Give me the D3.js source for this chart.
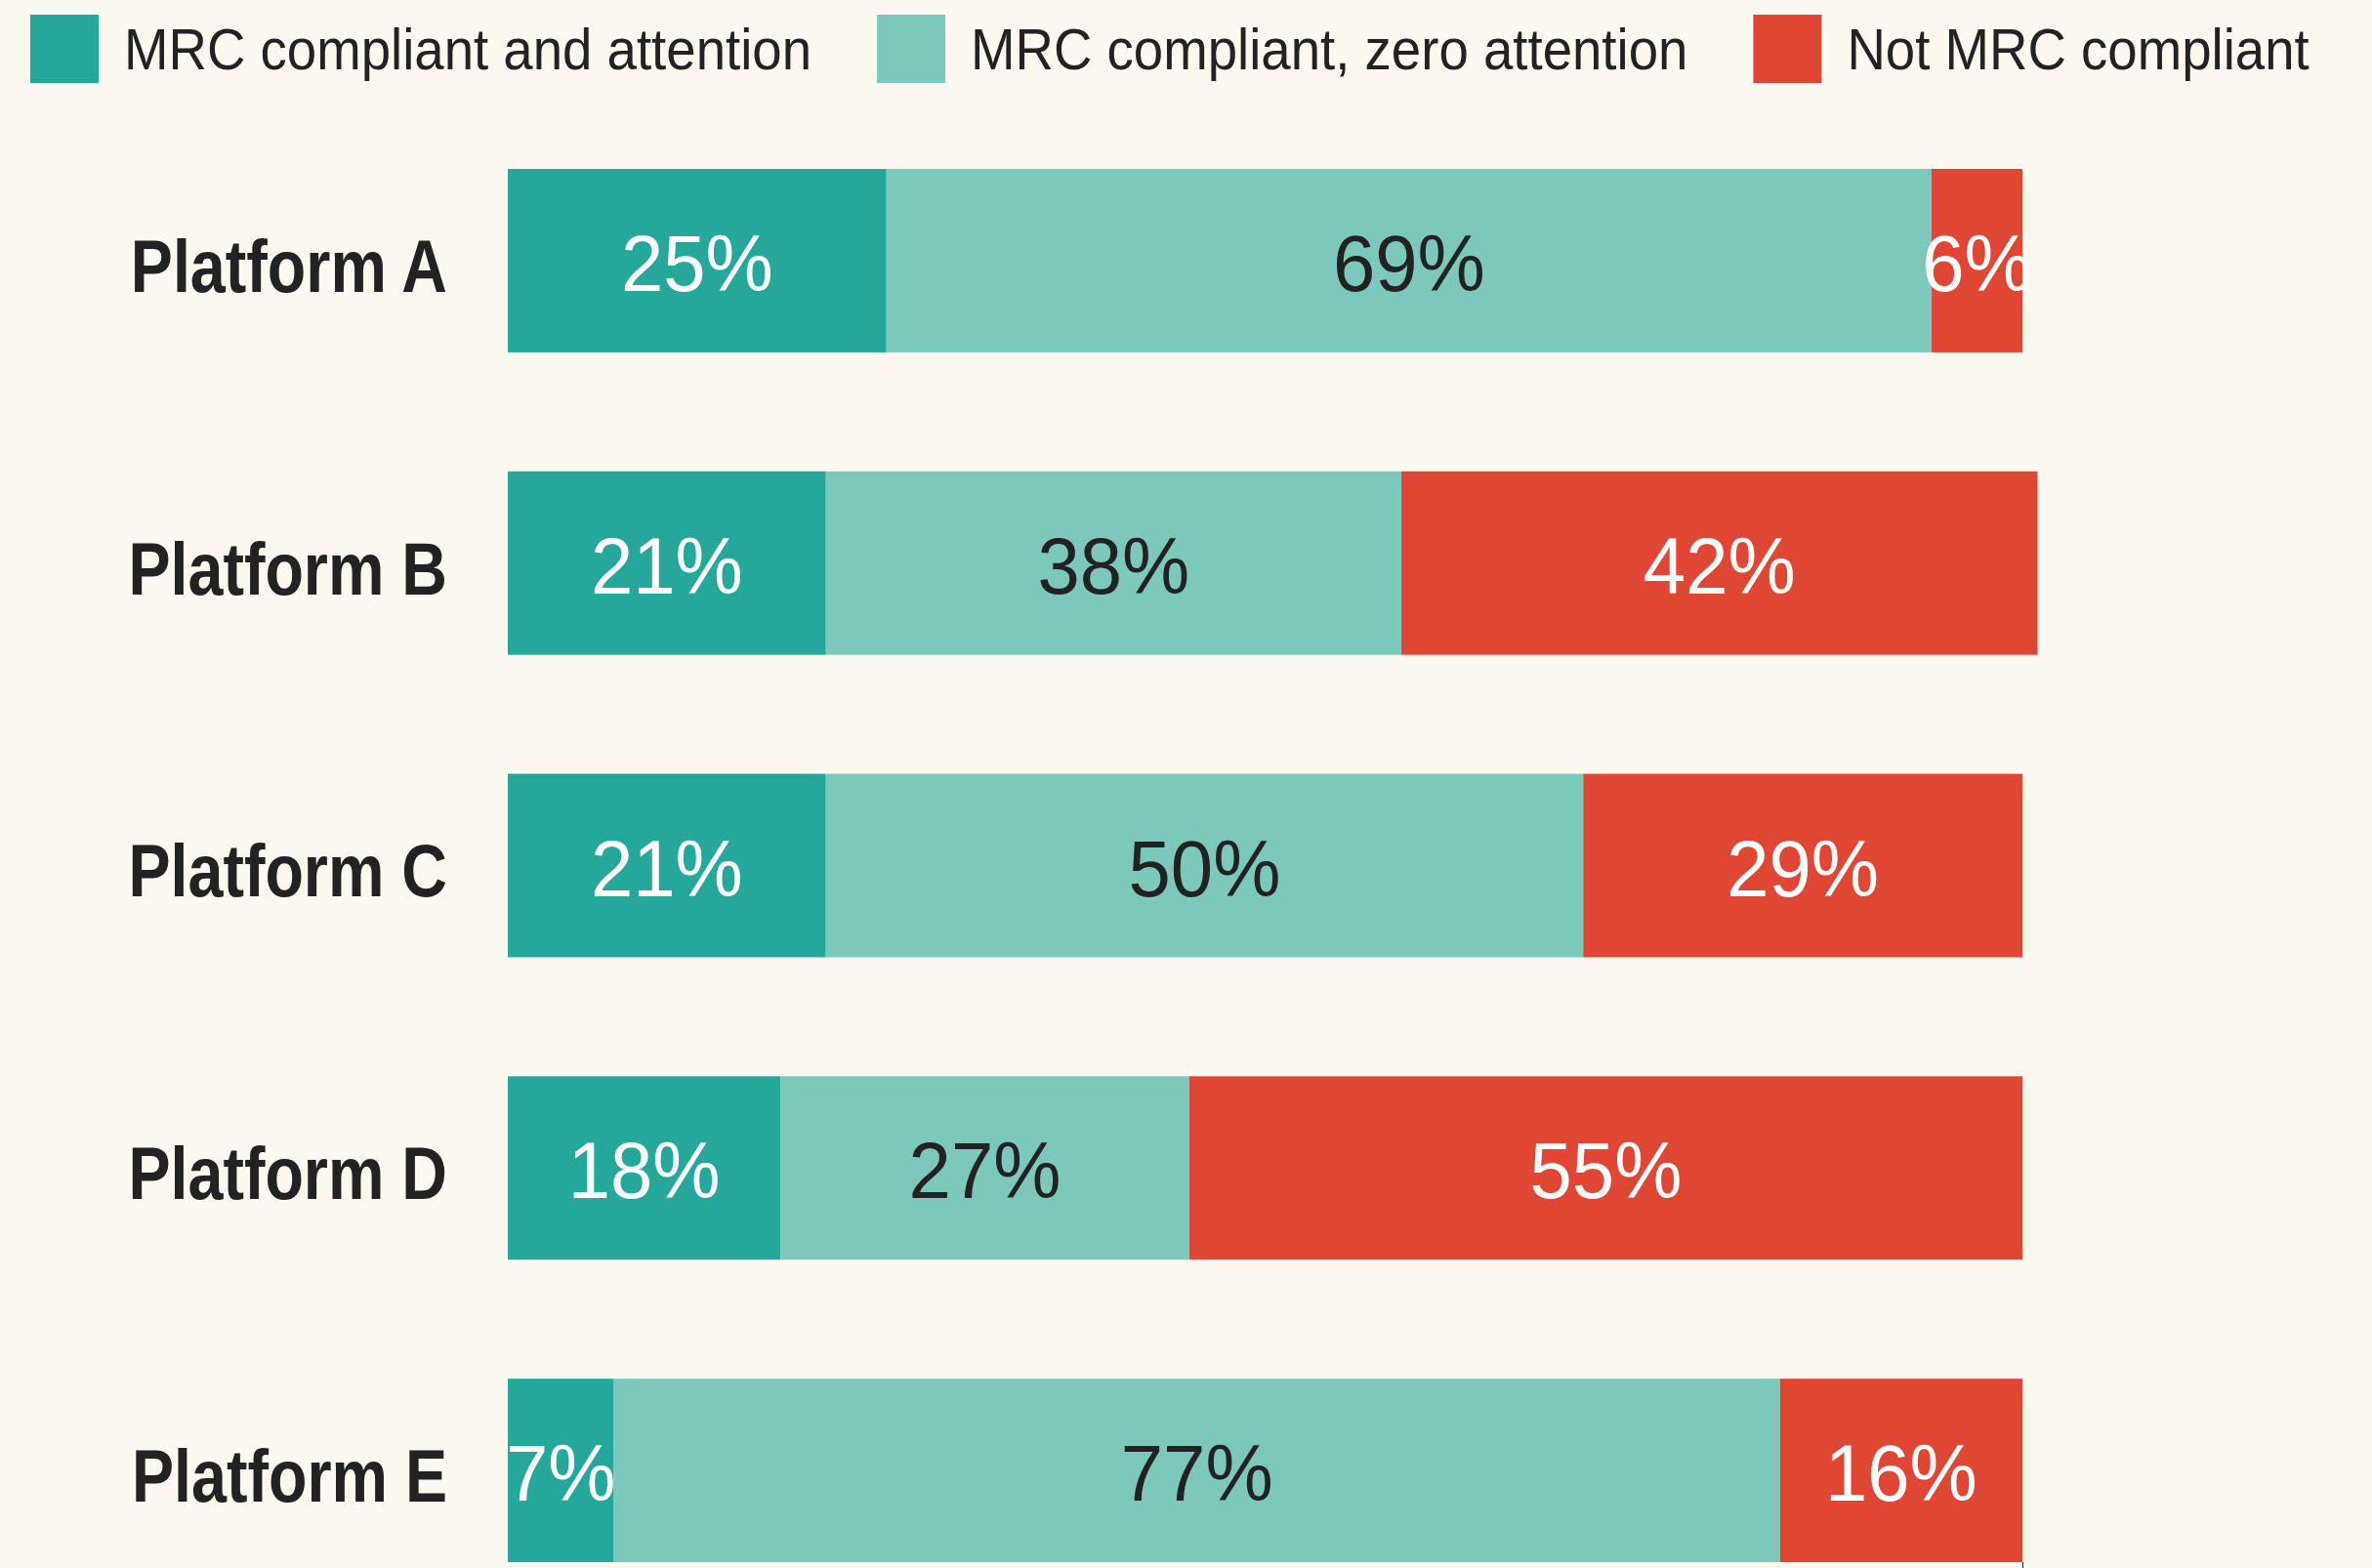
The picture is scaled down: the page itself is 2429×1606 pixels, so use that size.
<!DOCTYPE html>
<html>
<head>
<meta charset="utf-8">
<script src="https://cdn.jsdelivr.net/npm/d3@7"></script>
<style>
  html, body { margin: 0; padding: 0; background: #fbf8ef; }
  svg { display: block; }
  .lab { font-family: "Liberation Sans", Arial, sans-serif; }
</style>
</head>
<body>
<div id="chart"></div>
<script>
var platforms = ["Platform A", "Platform B", "Platform C", "Platform D", "Platform E"];
var series = ["MRC compliant and attention", "MRC compliant, zero attention", "Not MRC compliant"];
var attention = [25, 21, 21, 18, 7];
var zeroAttention = [69, 38, 50, 27, 77];
var notCompliant = [6, 42, 29, 55, 16];
var colors = ["#25a89a", "#7cc9bb", "#e04634"];
var labelColors = ["#ffffff", "#222222", "#ffffff"];

var width = 2429, height = 1606;
var narrowLegend = 0.91, narrowPlatform = 0.85, narrowValue = 0.95; // fake a narrow face

var rows = platforms.map(function (p, i) {
  return {platform: p, values: [attention[i], zeroAttention[i], notCompliant[i]]};
});

var svg = d3.select('#chart').append('svg')
            .attr('width', width)
            .attr('height', height);

var x = d3.scaleLinear().domain([0, 100]).range([520, 2071]);
var y = d3.scaleBand().domain(platforms).range([173, 1600]).paddingInner(0.3935).paddingOuter(0);

// bars
var rowG = svg.selectAll('g.row')
              .data(rows)
              .enter().append('g')
              .attr('class', 'row')
              .attr('transform', function (d) { return 'translate(0,' + y(d.platform) + ')'; });

var segs = rowG.selectAll('g.seg')
               .data(function (d) {
                 var acc = 0;
                 return d.values.map(function (v, k) {
                   var s = {k: k, v: v, x0: acc, x1: acc + v};
                   acc += v;
                   return s;
                 });
               })
               .enter().append('g').attr('class', 'seg');

segs.append('rect')
    .attr('x', function (d) { return x(d.x0); })
    .attr('width', function (d) { return x(d.x1) - x(d.x0); })
    .attr('y', 0)
    .attr('height', y.bandwidth())
    .attr('fill', function (d) { return colors[d.k]; });

segs.append('text')
    .attr('class', 'lab')
    .attr('transform', function (d) {
      return 'translate(' + (x(d.x0) + x(d.x1)) / 2 + ',' + y.bandwidth() / 2 + ') scale(' + narrowValue + ',1)';
    })
    .attr('dy', '0.38em')
    .attr('text-anchor', 'middle')
    .attr('font-size', 82)
    .attr('fill', function (d) { return labelColors[d.k]; })
    .text(function (d) { return d.v + '%'; });

// platform labels
svg.append('g').selectAll('text')
   .data(platforms)
   .enter().append('text')
   .attr('class', 'lab')
   .attr('transform', function (d) {
     return 'translate(458,' + (y(d) + y.bandwidth() / 2) + ') scale(' + narrowPlatform + ',1)';
   })
   .attr('dy', '0.42em')
   .attr('text-anchor', 'end')
   .attr('font-size', 76)
   .attr('font-weight', 'bold')
   .attr('fill', '#222222')
   .text(function (d) { return d; });

// x axis, only the 100% tick shows below the last bar
var xAxis = d3.axisBottom(x).tickValues([100]).tickFormat('').tickSize(10);
svg.append('g').attr('transform', 'translate(0,1600)').call(xAxis)
   .call(function (g) { g.select('.domain').remove(); })
   .selectAll('line').attr('stroke', '#222');

// legend
var legend = svg.append('g').attr('class', 'legend');
var lx = 31;
series.forEach(function (s, i) {
  legend.append('rect')
        .attr('x', lx).attr('y', 15)
        .attr('width', 70).attr('height', 70)
        .attr('fill', colors[i]);
  var t = legend.append('text')
        .attr('class', 'lab')
        .attr('transform', 'translate(' + (lx + 96) + ',71) scale(' + narrowLegend + ',1)')
        .attr('font-size', 60)
        .attr('fill', '#222222')
        .text(s);
  lx = lx + 96 + t.node().getComputedTextLength() * narrowLegend + 67;
});
</script>
</body>
</html>
